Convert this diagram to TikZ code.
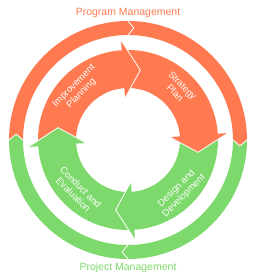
\documentclass[tikz,border=0pt]{standalone}
\usepackage{fontspec}
\setmainfont{Liberation Sans}
\usepackage{tikz}
\definecolor{program}{HTML}{FF7A50}
\definecolor{project}{HTML}{7DD96B}

\begin{document}
\begin{tikzpicture}[x=1pt,y=1pt,
  seam/.style={white,line width=0.8pt},
  phase/.style={text=white,align=center,font=\fontsize{9.5}{10.5}\selectfont},
  title/.style={font=\fontsize{10.5}{12}\selectfont}]
\useasboundingbox (-128,-140) rectangle (128,140);

% outer ring
\foreach \a/\col in {180/program,90/program,0/project,-90/project}
  \fill[\col] (\a:119) arc[start angle=\a,end angle=\a-90,radius=119]
    -- (\a-90:105) arc[start angle=\a-90,end angle=\a,radius=105] -- cycle;
\foreach \a/\col in {180/program,90/program,0/project,-90/project}{
  \fill[\col] (\a-90:119) -- (\a-93:112) -- (\a-90:105) -- cycle;
  \draw[seam] (\a-90:119) -- (\a-93:112) -- (\a-90:105);
}

% inner ring with arrow heads
\foreach \a/\col in {180/program,90/program,0/project,-90/project}
  \fill[\col] (\a:90) arc[start angle=\a,end angle=\a-90,radius=90]
    -- (\a-90:52) arc[start angle=\a-90,end angle=\a,radius=52] -- cycle;
\foreach \a/\col in {180/program,90/program,0/project,-90/project}{
  \fill[\col] (\a-86:100) -- (\a-100:71) -- (\a-86:42) -- cycle;
  \draw[seam] (\a-86:100) -- (\a-100:71) -- (\a-86:42);
}

\node[phase,rotate=45] (improve) at (135:71) {Improvement\\Planning};
\node[phase,rotate=-45] (strategy) at (45:72) {Strategy\\Plan};
\node[phase,rotate=45] (design) at (-45:74) {Design and\\Development};
\node[phase,rotate=-45] (conduct) at (-135:72) {Conduct and\\Evaluation};

\node[title,text=program] (progmgmt) at (0,127) {Program Management};
\node[title,text=project] (projmgmt) at (0,-128) {Project Management};
\end{tikzpicture}
\end{document}
